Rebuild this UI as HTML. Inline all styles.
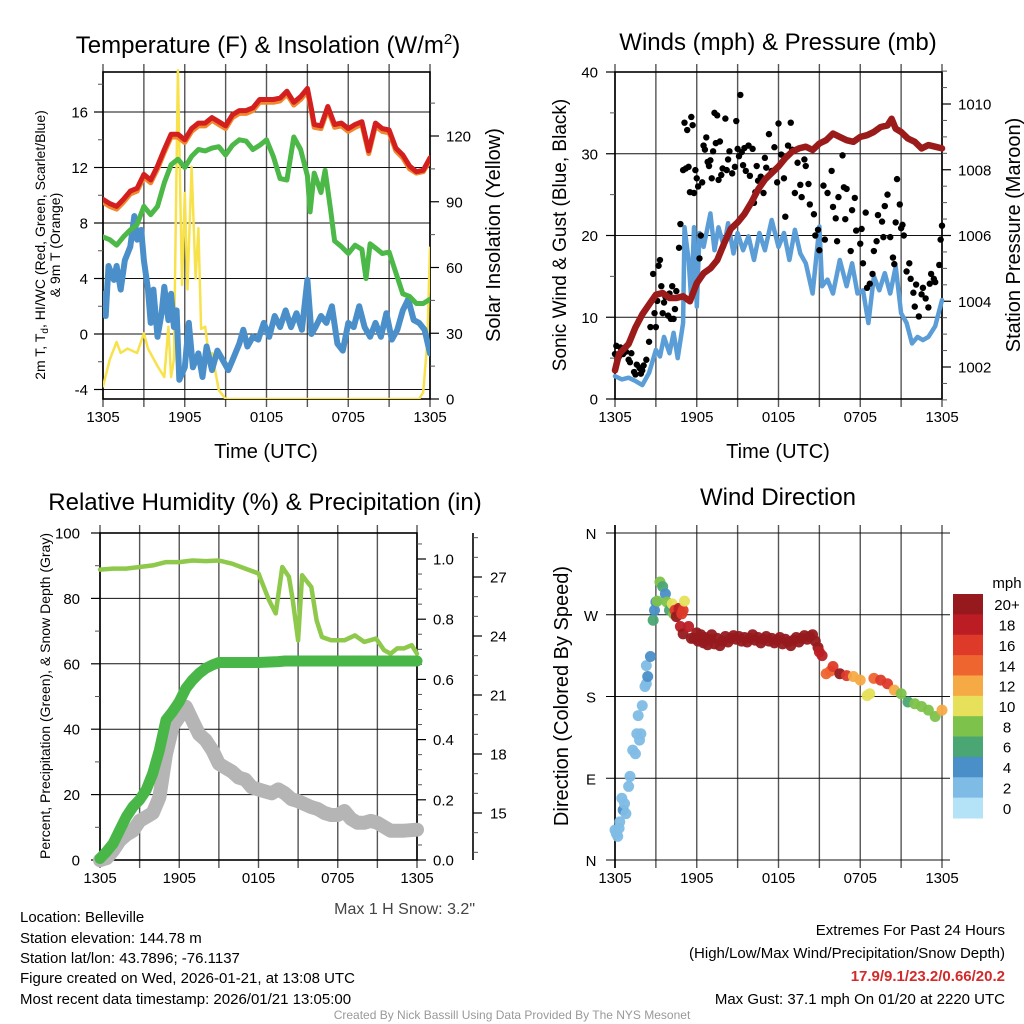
<!DOCTYPE html>
<html><head><meta charset="utf-8"><title>Mesonet Station Meteogram</title>
<style>
html,body{margin:0;padding:0;background:#fff;}
svg{display:block;font-family:"Liberation Sans",Arial,sans-serif;}
</style></head>
<body>
<svg id="chart" xmlns="http://www.w3.org/2000/svg" width="1024" height="1024" viewBox="0 0 1024 1024">
<rect x="0" y="0" width="1024" height="1024" fill="#fff"/>
<text x="268" y="53" font-size="24" text-anchor="middle">Temperature (F) &amp; Insolation (W/m<tspan font-size="15" dy="-9">2</tspan><tspan dy="9">)</tspan></text>
<text x="778" y="50" font-size="24" text-anchor="middle">Winds (mph) &amp; Pressure (mb)</text>
<text x="265" y="510" font-size="24" text-anchor="middle">Relative Humidity (%) &amp; Precipitation (in)</text>
<text x="778" y="505" font-size="24" text-anchor="middle">Wind Direction</text>

<text x="266" y="458" font-size="20" text-anchor="middle">Time (UTC)</text>
<text x="778" y="458" font-size="20" text-anchor="middle">Time (UTC)</text>

<g transform="translate(45,245) rotate(-90)">
<text x="0" y="0" font-size="14" text-anchor="middle">2m T, T<tspan font-size="10" dy="3">d</tspan><tspan dy="-3">, HI/WC (Red, Green, Scarlet/Blue)</tspan></text>
<text x="0" y="15" font-size="14" text-anchor="middle">&amp; 9m T (Orange)</text>
</g>
<text transform="translate(500,235) rotate(-90)" font-size="20" text-anchor="middle">Solar Insolation (Yellow)</text>
<text transform="translate(566,235) rotate(-90)" font-size="19" text-anchor="middle">Sonic Wind &amp; Gust (Blue, Black)</text>
<text transform="translate(1020,235) rotate(-90)" font-size="20" text-anchor="middle">Station Pressure (Maroon)</text>
<text transform="translate(50,696) rotate(-90)" font-size="14" text-anchor="middle">Percent, Precipitation (Green), &amp; Snow Depth (Gray)</text>
<text transform="translate(568,696) rotate(-90)" font-size="20" text-anchor="middle">Direction (Colored By Speed)</text>

<text x="475" y="914" font-size="16" fill="#444" text-anchor="end">Max 1 H Snow: 3.2"</text>
<g font-size="15">
<text x="20" y="922">Location: Belleville</text>
<text x="20" y="943">Station elevation: 144.78 m</text>
<text x="20" y="963">Station lat/lon: 43.7896; -76.1137</text>
<text x="20" y="983">Figure created on Wed, 2026-01-21, at 13:08 UTC</text>
<text x="20" y="1004">Most recent data timestamp: 2026/01/21 13:05:00</text>
</g>
<g font-size="15" text-anchor="end">
<text x="1005" y="935">Extremes For Past 24 Hours</text>
<text x="1005" y="958">(High/Low/Max Wind/Precipitation/Snow Depth)</text>
<text x="1005" y="981" fill="#d42a2a" font-weight="bold">17.9/9.1/23.2/0.66/20.2</text>
<text x="1005" y="1004">Max Gust: 37.1 mph On 01/20 at 2220 UTC</text>
</g>
<text x="512" y="1019" font-size="12" fill="#999" text-anchor="middle">Created By Nick Bassill Using Data Provided By The NYS Mesonet</text>
</svg>
<script>
// ---------- DATA (hours since 1305 UTC) ----------
var tempTimes = [0,0.5,1,1.5,2,2.5,3,3.5,4,4.5,5,5.5,6,6.5,7,7.5,8,8.5,9,9.5,10,10.5,11,11.5,12,12.5,13,13.5,14,14.5,15,15.3,15.5,16,16.5,17,17.5,18,18.5,19,19.5,20,20.5,21,21.5,22,22.5,23,23.5,24];
var tempValues = [9.7,9.4,9.2,9.7,10.3,10.5,11.5,11.1,12.1,13.3,14.4,14.4,14.0,14.8,15.2,15.2,15.6,15.3,15.0,15.8,16.1,16.1,16.3,16.9,16.9,16.9,17.0,17.5,16.7,17.1,17.7,16.2,15.1,15.0,16.4,15.1,15.2,14.8,15.1,15.3,13.2,15.2,14.8,14.7,13.4,12.9,12.1,11.7,11.8,12.7];
var temp9mValues = [9.5,9.2,9.0,9.5,10.1,10.3,11.3,10.9,11.9,13.1,14.2,14.2,13.8,14.6,15.0,15.0,15.4,15.1,14.8,15.6,15.9,15.9,16.1,16.7,16.7,16.7,16.8,17.3,16.5,16.9,17.5,16.0,14.9,14.8,16.2,14.9,15.0,14.6,14.9,15.1,13.0,15.0,14.6,14.5,13.2,12.7,11.9,11.6,11.7,12.5];
var dewTimes = [0,0.5,1,1.5,2,2.5,3,3.5,4,4.5,5,5.5,6,6.5,7,7.5,8,8.5,9,9.5,10,10.5,11,11.5,12,12.5,13,13.5,14,14.5,15,15.2,15.5,16,16.3,16.7,17,17.5,18,18.5,19,19.3,19.6,20,20.5,21,21.5,22,22.5,23,23.5,24];
var dewValues = [7.0,6.8,6.4,7.0,7.5,7.9,9.2,8.6,9.2,10.9,12.2,12.6,12.0,12.8,13.3,13.2,13.4,13.5,12.9,13.6,14.0,13.9,13.3,13.6,14.0,12.8,11.2,11.1,14.2,13.3,11.4,8.8,11.6,10.2,11.8,9.0,6.7,6.3,5.8,6.4,6.1,4.0,6.5,6.2,5.8,5.9,4.4,2.9,2.7,2.2,2.2,2.5];
var chillTimes = [0,0.2,0.4,0.8,1,1.3,1.6,2,2.3,2.5,2.8,3,3.3,3.5,3.7,4,4.3,4.5,4.8,5,5.2,5.4,5.6,6,6.3,6.6,7,7.3,7.6,8,8.4,8.8,9.2,9.5,10,10.3,10.6,11,11.4,11.8,12.2,12.6,13,13.4,13.8,14.2,14.6,15,15.3,15.6,16,16.4,16.8,17.2,17.6,18,18.4,18.8,19.2,19.6,20,20.4,20.8,21.2,21.6,22,22.4,22.8,23.2,23.6,24];
var chillValues = [2.9,1.3,4.9,3.9,4.9,3.2,5.3,6.3,8.5,6.8,7.5,5.3,3.2,0.8,3.2,-0.2,1.5,3.4,1.0,2.9,0.5,1.7,-3.3,-2.4,0.8,-2.4,-1.4,-3.1,-0.9,-2.6,-1.2,-1.9,-2.6,-1.9,-0.7,0.3,-0.9,-0.2,-0.4,0.8,-0.2,1.3,0.5,1.7,0.5,1.5,0.3,3.9,0.0,0.5,1.3,0.8,2.0,-0.7,-1.2,0.8,0.5,2.0,0.5,-0.2,0.8,-0.2,1.5,-0.4,0.3,1.7,2.5,1.0,0.8,0.3,-1.4];
var solarTimes = [0,0.5,1,1.3,1.8,2.5,3,3.3,4,4.5,4.8,5,5.2,5.5,5.8,6,6.2,6.5,6.8,7,7.2,7.5,7.8,8,8.5,9,12,18,23.2,23.5,23.8,24];
var solarValues = [5.8,18,26,21,23,21,30,23,15,10,33,10,18,150,52,94,50,106,55,78,32,33,18,21,4,0,0,0,0,3,26,69];

var windTimes = [0,0.5,1,1.5,2,2.5,3,3.3,3.6,4,4.3,4.6,5,5.1,5.4,5.6,5.8,6,6.2,6.5,7,7.3,7.6,8,8.3,8.7,9,9.4,9.8,10.2,10.6,11,11.5,12,12.4,12.8,13.2,13.6,14,14.5,15,15.2,15.6,16,16.5,17,17.4,17.8,18.2,18.6,19,19.4,19.8,20.2,20.6,21,21.4,21.8,22.2,22.6,23,23.5,24];
var windValues = [2.8,2.4,2.6,2.2,1.7,3.2,6.0,5.2,7.6,5.6,8.1,5.0,9.3,21,17,12.1,21,11.3,20.3,18.6,22.7,18.2,21,18.6,21.5,17.8,20.3,18.2,19.9,17,20.3,18.2,21.9,18.6,20.3,17,20.7,17.8,16.6,12.9,21.1,13.8,14.6,12.9,17,13.8,16.6,12.9,13.3,9.3,15,13.3,15.4,12.9,16.2,10.5,9.3,6.8,7.6,7.2,7.6,8.9,12.1];
var gustTimes = [0,0.1,0.3,0.4,0.6,0.8,1.0,1.1,1.2,1.4,1.5,1.6,1.8,1.9,2.0,2.1,2.3,2.5,2.6,2.8,2.9,3.0,3.1,3.2,3.3,3.4,3.5,3.6,3.7,3.9,4.0,4.1,4.2,4.3,4.4,4.5,4.7,4.8,5.0,5.1,5.2,5.3,5.4,5.5,5.6,5.7,5.8,5.9,6.0,6.1,6.2,6.3,6.4,6.5,6.6,6.7,6.8,6.9,7.0,7.1,7.2,7.3,7.4,7.5,7.6,7.7,7.8,7.9,8.1,8.2,8.3,8.4,8.6,8.8,8.9,9.0,9.1,9.2,9.3,9.4,9.5,9.6,9.8,9.9,10.1,10.2,10.3,10.4,10.5,10.7,10.9,11.0,11.1,11.3,11.5,11.7,11.9,12.0,12.2,12.4,12.5,12.7,12.9,13.0,13.2,13.4,13.6,13.7,13.9,14.0,14.2,14.3,14.6,14.7,14.9,15.0,15.3,15.4,15.6,15.9,16.0,16.2,16.3,16.4,16.7,16.8,16.9,17.0,17.3,17.4,17.6,17.7,18.0,18.1,18.2,18.4,18.5,18.7,18.9,19.0,19.2,19.3,19.6,19.7,19.8,20.0,20.2,20.4,20.5,20.6,20.7,20.9,21.0,21.1,21.2,21.4,21.6,21.7,21.9,22.0,22.1,22.3,22.5,22.6,22.8,23.0,23.1,23.2,23.4,23.5,23.8,23.9,24.0];
var gustValues = [5.5,6.5,5.2,6.3,5.5,5.8,4.8,4.5,5.6,3.3,3.0,4.2,3.8,3.1,3.5,4.1,4.8,7.0,8.8,15.3,10.5,8.8,12.0,16.3,17.0,13.8,10.5,11.8,12.5,10.2,12.9,9.8,13.8,9.8,11.0,13.2,18.5,21.4,28.0,33.8,28.2,32.9,28.4,25.3,34.5,33.5,25.2,28.0,27.0,26.0,17.2,20.0,26.5,31.0,30.5,32.0,29.0,28.5,29.2,27.0,30.3,35.0,31.3,34.7,26.8,31.5,27.4,28.2,34.3,28.0,29.3,30.3,27.6,28.4,34.0,30.6,29.7,37.2,30.2,28.6,30.7,27.9,31.0,27.3,30.6,24.0,25.3,28.5,26.7,27.2,25.2,29.5,28.3,32.4,27.9,30.8,26.5,33.7,29.9,27.0,22.3,31.0,33.8,30.5,25.2,28.9,26.2,24.7,29.3,28.5,26.3,23.8,22.6,20.0,20.7,18.2,26.1,19.5,25.2,27.9,23.5,22.1,19.3,24.7,29.8,25.9,22.0,25.7,18.1,23.1,24.6,20.6,19.0,20.8,16.6,22.8,13.6,14.1,15.3,18.1,19.3,22.5,21.7,19.8,23.6,25.0,19.8,17.3,16.5,21.6,26.9,23.8,20.9,21.3,20.0,15.6,16.6,14.7,13.0,11.3,14.0,10.1,12.8,13.6,12.3,11.2,14.1,15.3,14.7,14.3,16.4,19.5,21.2];
var pressTimes = [0,0.3,1,1.5,2,2.5,3,3.5,4,4.5,5,5.5,6,6.5,7,7.5,8,8.5,9,9.5,10,10.5,11,11.5,12,12.5,13,13.5,14,14.5,15,15.5,16,16.5,17,17.5,18,18.5,19,19.5,20,20.3,20.6,21,21.5,22,22.5,23,23.5,24];
var pressValues = [1001.9,1002.4,1002.7,1003.2,1003.6,1003.9,1004.2,1004.25,1004.1,1004.1,1004.15,1004.0,1004.55,1004.85,1005.0,1005.25,1005.75,1006.2,1006.4,1006.65,1007.0,1007.4,1007.7,1007.9,1008.1,1008.35,1008.55,1008.65,1008.7,1008.6,1008.8,1008.9,1009.1,1009.0,1008.9,1008.85,1009.0,1009.05,1009.15,1009.3,1009.35,1009.55,1009.25,1009.15,1008.95,1008.85,1008.65,1008.75,1008.7,1008.65];

var rhTimes = [0,1,2,3,4,5,6,7,8,9,10,11,12,12.3,12.8,13.3,13.8,14.3,14.6,15,15.3,15.6,16,16.4,16.8,17.5,18.5,19.3,20,20.9,21.5,22,22.5,23,23.6,24];
var rhValues = [88.8,89.1,89.1,89.6,90.1,91.1,91.1,91.6,91.4,91.6,90.6,89.1,87.6,84.5,79.4,75.4,89.6,86.6,79.4,67.2,87.1,85.5,83.5,73.3,68.2,67.2,67.2,68.7,66.7,67.7,64.2,63.1,64.7,64.7,65.7,63.1];
var precipTimes = [0,0.5,1,1.5,2,2.5,3,3.5,4,4.5,5,5.5,6,6.5,7,7.5,8,8.5,9,10,12,13.5,14,24];
var precipValues = [0.005,0.028,0.055,0.10,0.144,0.177,0.20,0.233,0.288,0.365,0.465,0.493,0.526,0.57,0.598,0.62,0.637,0.648,0.656,0.656,0.656,0.659,0.661,0.661];
var snowTimes = [0,0.5,1,1.5,2,2.5,3,4,4.5,5,5.5,6,6.5,7,7.5,8,8.5,9,9.5,10,10.5,11,11.5,12,12.5,13,13.5,14,14.5,15,16,16.5,17,17.5,18,18.5,19,19.5,20,20.5,21,21.5,22,23,24];
var snowValues = [12.6,12.7,13.1,13.6,13.9,14.1,14.6,15.0,15.8,18.0,19.4,19.9,20.4,19.7,19.0,18.7,18.2,17.5,17.3,17.1,16.8,16.7,16.3,16.2,16.1,16.0,16.2,16.0,15.7,15.6,15.3,15.2,15.0,14.9,14.9,15.1,14.7,14.5,14.5,14.6,14.5,14.3,14.1,14.1,14.15];

var dirTimes = [0,0.1,0.2,0.3,0.35,0.5,0.6,0.7,0.8,1.0,1.1,1.3,1.5,1.6,1.8,1.9,1.7,2.0,2.2,2.3,2.4,2.3,2.6,2.8,2.9,3.0,3.1,3.3,3.5,3.7,3.8,4.0,4.2,4.3,4.4,4.5,4.7,4.9,5.0,5.1,4.8,5.0,5.4,5.6,5.8,6.0,6.1,6.3,6.5,6.6,6.8,7.0,7.1,7.3,7.5,7.7,7.9,8.1,8.3,8.5,8.7,8.9,9.1,9.3,9.5,9.7,9.9,10.1,10.3,10.5,10.7,10.9,11.1,11.3,11.5,11.7,11.9,12.1,12.3,12.5,12.7,12.9,13.1,13.3,13.5,13.7,13.9,14.1,14.3,14.5,14.7,14.9,15.0,15.2,15.5,15.8,16.0,16.5,17.0,17.5,18.0,18.5,18.7,19.0,19.5,20.0,20.5,21.0,21.5,22.0,22.5,23.0,23.5,24.0];
var dirValues = [33,29,26,35,42,68,55,62,51,81,92,121,117,139,132,139,159,170,191,194,202,214,224,264,275,284,285,306,301,293,284,275,282,271,275,268,277,271,275,285,257,249,257,244,244,250,241,248,239,245,237,243,248,238,244,236,241,246,240,244,247,243,246,241,245,240,244,248,242,245,239,243,246,241,244,239,242,245,238,243,240,236,242,245,240,244,247,243,246,248,241,234,229,225,205,208,213,205,203,202,198,181,183,200,198,194,187,183,174,172,169,165,158,165];
var dirSpeeds = [2,2,2,3,2,2,4,2,2,2,2,2,2,2,2,2,2,2,2,2,4,2,4,6,4,4,8,8,6,4,8,6,10,8,16,20,18,16,16,10,18,20,18,20,20,20,20,20,20,20,20,20,20,20,20,20,20,20,20,20,20,20,20,20,20,20,20,20,20,20,20,20,20,20,20,20,20,20,20,20,20,20,20,20,20,20,20,20,20,20,20,20,18,18,14,14,16,20,16,12,12,10,10,14,16,16,12,8,6,8,8,8,8,12];
var speedColors = ["#b4e2f7","#7fbce5","#4a8fc7","#4aa673","#7dc24b","#e6e05a","#f5aa45","#ee6530","#dd3a2a","#bc1d25","#961a1d"];
var speedLabels = ["0","2","4","6","8","10","12","14","16","18","20+"];

// ---------- helpers ----------
var NS = "http://www.w3.org/2000/svg";
var svg = document.getElementById("chart");
function mk(tag, attrs, parent) {
  var el = document.createElementNS(NS, tag);
  for (var k in attrs) el.setAttribute(k, attrs[k]);
  (parent || svg).appendChild(el);
  return el;
}
function lin(d0, d1, r0, r1) { return function (v) { return r0 + (v - d0) * (r1 - r0) / (d1 - d0); }; }
function pathFrom(xs, ys, sx, sy) {
  var d = "";
  for (var i = 0; i < xs.length; i++) d += (i ? "L" : "M") + sx(xs[i]).toFixed(1) + "," + sy(ys[i]).toFixed(1);
  return d;
}
var timeLabels = ["1305", "1905", "0105", "0705", "1305"];

function frame(p, name) {
  var g = mk("g", {});
  
  
  for (var h = 0; h <= 24; h += 3) {
    var x = p.sx(h);
    var ln = mk("line", { x1: x, x2: x, y1: p.y0 - p.ext, y2: p.y1 + 8, stroke: "#555", "stroke-width": 1.4 }, g);
    
    
  }
  for (var i = 0; i < timeLabels.length; i++) {
    var t = mk("text", { x: p.sx(i * 6), y: p.y1 + 23, "font-size": 15, "text-anchor": "middle" }, g);
    t.textContent = timeLabels[i];
    
    
  }
  return g;
}
function hgrid(p, g, vals, sy, x2) {
  vals.forEach(function (v) {
    var ln = mk("line", { x1: p.x0, x2: x2 || p.x1, y1: sy(v), y2: sy(v), stroke: "#111", "stroke-width": 1 }, g);
    
    
  });
}
function box(p, g) {
  var r = mk("rect", { x: p.x0, y: p.y0, width: p.x1 - p.x0, height: p.y1 - p.y0, fill: "none", stroke: "#000", "stroke-width": 1.6 }, g);
  
  
}
function axisTicks(g, x, dir, sy, majors, minors, labels, lx, anchor) {
  minors.forEach(function (v) {
    var t = mk("line", { x1: x, x2: x + dir * 5, y1: sy(v), y2: sy(v), stroke: "#555", "stroke-width": 1 }, g);
    
    
  });
  majors.forEach(function (v, i) {
    var t = mk("line", { x1: x, x2: x + dir * 9, y1: sy(v), y2: sy(v), stroke: "#000", "stroke-width": 1.2 }, g);
    
    
    var lb = mk("text", { x: lx, y: sy(v) + 5.5, "font-size": 15, "text-anchor": anchor }, g);
    lb.textContent = labels[i];
    
    
  });
}
function range(a, b, s) { var r = []; for (var v = a; v <= b + 1e-9; v += s) r.push(Math.round(v * 1000) / 1000); return r; }
function line(g, xs, ys, sx, sy, color, w, name) {
  var p = mk("path", { d: pathFrom(xs, ys, sx, sy), fill: "none", stroke: color, "stroke-width": w, "stroke-linejoin": "round", "stroke-linecap": "round" }, g);
  
  
  return p;
}

// ---------- Panel 1: temperature ----------
var p1 = { x0: 103, x1: 430, y0: 72, y1: 399, ext: 8 };
p1.sx = lin(0, 24, p1.x0, p1.x1);
var tY = lin(0, 16, 334, 112), sY = lin(0, 120, 399, 136);
var g1 = frame(p1, "temperature-panel");
hgrid(p1, g1, [-4, 0, 4, 8, 12, 16], tY);
var c1 = mk("clipPath", { id: "clip1" }); mk("rect", { x: p1.x0, y: p1.y0 - 10, width: p1.x1 - p1.x0, height: p1.y1 - p1.y0 + 10 }, c1);
var s1 = mk("g", { "clip-path": "url(#clip1)" });


line(s1, solarTimes, solarValues, p1.sx, sY, "#f8e24c", 2.5, "solar-insolation-line");
line(s1, chillTimes, chillValues, p1.sx, tY, "#4a8fc9", 6, "wind-chill-line");
line(s1, dewTimes, dewValues, p1.sx, tY, "#4cb848", 5, "dewpoint-line");
line(s1, tempTimes, temp9mValues, p1.sx, tY, "#f0882f", 5, "temperature-9m-line");
line(s1, tempTimes, tempValues, p1.sx, tY, "#d41f1f", 5, "temperature-2m-line");
box(p1, g1);
axisTicks(g1, p1.x0, -1, tY, [-4, 0, 4, 8, 12, 16], [-2, 2, 6, 10, 14, 18], ["-4", "0", "4", "8", "12", "16"], 88, "end");
axisTicks(g1, p1.x1, 1, sY, [0, 30, 60, 90, 120], [15, 45, 75, 105, 135], ["0", "30", "60", "90", "120"], 446, "start");

// ---------- Panel 2: winds ----------
var p2 = { x0: 615, x1: 942, y0: 72, y1: 399, ext: 8 };
p2.sx = lin(0, 24, p2.x0, p2.x1);
var wY = lin(0, 40, 399, 72), pY = lin(1002, 1010, 367, 104);
var g2 = frame(p2, "winds-panel");
hgrid(p2, g2, [10, 20, 30], wY);
var s2 = mk("g", {});


line(s2, windTimes, windValues, p2.sx, wY, "#5b9dd6", 4.5, "sonic-wind-line");
for (var i = 0; i < gustTimes.length; i++) {
  var c = mk("circle", { cx: p2.sx(gustTimes[i]), cy: wY(gustValues[i]), r: 3.2, fill: "#000" }, s2);
  
  
}
line(s2, pressTimes, pressValues, p2.sx, pY, "#9b1b1b", 6.5, "pressure-line");
box(p2, g2);
axisTicks(g2, p2.x0, -1, wY, [0, 10, 20, 30, 40], [5, 15, 25, 35], ["0", "10", "20", "30", "40"], 598, "end");
axisTicks(g2, p2.x1, 1, pY, [1002, 1004, 1006, 1008, 1010], range(1001, 1011, 0.5).filter(function (v) { return v % 2 !== 0; }), ["1002", "1004", "1006", "1008", "1010"], 958, "start");

// ---------- Panel 3: humidity ----------
var p3 = { x0: 100, x1: 417, y0: 533, y1: 860, ext: 8 };
p3.sx = lin(0, 24, p3.x0, p3.x1);
var hY = lin(0, 100, 860, 533), prY = lin(0, 1, 860, 559), snY = lin(15, 27, 813, 577);
var g3 = frame(p3, "humidity-panel");
hgrid(p3, g3, [20, 40, 60, 80], hY);
var s3 = mk("g", {});


line(s3, snowTimes, snowValues, p3.sx, snY, "#b5b5b5", 14, "snow-depth-line");
line(s3, rhTimes, rhValues, p3.sx, hY, "#8ec94c", 4.5, "relative-humidity-line");
line(s3, precipTimes, precipValues, p3.sx, prY, "#48b748", 11, "precipitation-line");
box(p3, g3);
axisTicks(g3, p3.x0, -1, hY, [0, 20, 40, 60, 80, 100], [10, 30, 50, 70, 90], ["0", "20", "40", "60", "80", "100"], 80, "end");
axisTicks(g3, p3.x1, 1, prY, [0, 0.2, 0.4, 0.6, 0.8, 1.0], range(0.05, 1.05, 0.05).filter(function (v) { return Math.round(v * 100) % 20 !== 0; }), ["0.0", "0.2", "0.4", "0.6", "0.8", "1.0"], 433, "start");
var sa = mk("line", { x1: 473, x2: 473, y1: 533, y2: 860, stroke: "#000", "stroke-width": 1.6 }, g3);


axisTicks(g3, 473, 1, snY, [15, 18, 21, 24, 27], [13, 14, 16, 17, 19, 20, 22, 23, 25, 26, 28, 29], ["15", "18", "21", "24", "27"], 490, "start");

// ---------- Panel 4: wind direction ----------
var p4 = { x0: 615, x1: 942, y0: 533, y1: 860, ext: 8 };
p4.sx = lin(0, 24, p4.x0, p4.x1);
var dY = lin(0, 360, 860, 533);
var g4 = frame(p4, "direction-panel");
hgrid(p4, g4, [0, 90, 180, 270, 360], dY, 950);
var dl = mk("line", { x1: p4.x0, x2: p4.x0, y1: 525, y2: 868, stroke: "#000", "stroke-width": 1.6 }, g4);


var dirLabels = ["N", "E", "S", "W", "N"];
[0, 90, 180, 270, 360].forEach(function (v, i) {
  var t = mk("line", { x1: p4.x0, x2: p4.x0 - 9, y1: dY(v), y2: dY(v), stroke: "#000" }, g4);
  
  
  var lb = mk("text", { x: 591, y: dY(v) + 6, "font-size": 15, "text-anchor": "middle" }, g4);
  lb.textContent = dirLabels[i];
  
  
});
var s4 = mk("g", {});


for (var j = 0; j < dirTimes.length; j++) {
  var bin = Math.min(10, Math.floor(dirSpeeds[j] / 2));
  var cc = mk("circle", { cx: p4.sx(dirTimes[j]), cy: dY(dirValues[j]), r: 5.5, fill: speedColors[bin], "fill-opacity": 0.95 }, s4);
  
  
}
// colorbar
var cb = mk("g", {});


var cbTop = 594, cbH = 224 / speedColors.length;
for (var k = 0; k < speedColors.length; k++) {
  var idx = speedColors.length - 1 - k;
  var r = mk("rect", { x: 953, y: cbTop + k * cbH, width: 30, height: cbH + 0.5, fill: speedColors[idx] }, cb);
  
  
  var lt = mk("text", { x: 1007, y: cbTop + k * cbH + cbH / 2 + 6, "font-size": 15, "text-anchor": "middle" }, cb);
  lt.textContent = speedLabels[idx];
  
  
}
var mph = mk("text", { x: 1007, y: 588, "font-size": 15, "text-anchor": "middle" }, cb);
mph.textContent = "mph";


</script>
</body></html>
